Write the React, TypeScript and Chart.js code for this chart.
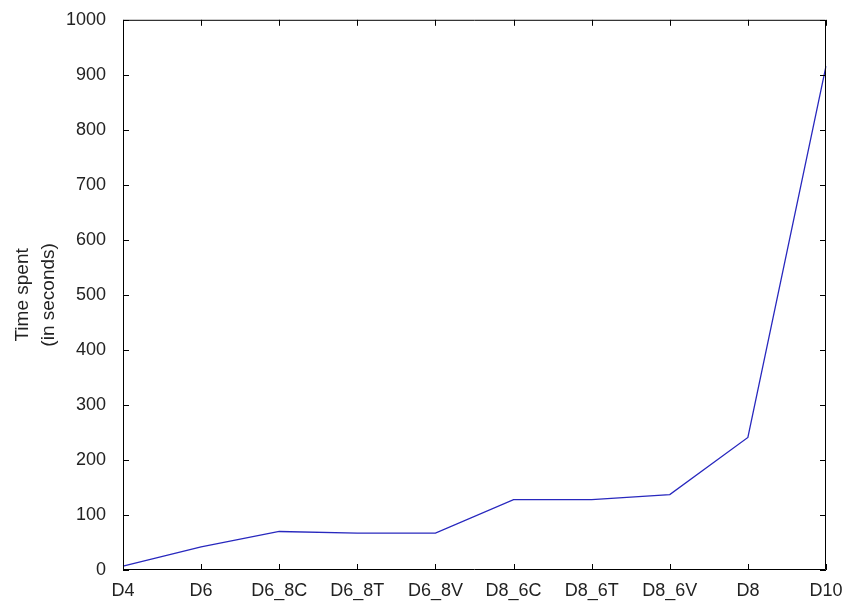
import React, { useEffect, useRef } from "react";
import { Chart, registerables } from "chart.js";

Chart.register(...registerables);

// Run configurations along the x axis
const configs = ["D4", "D6", "D6_8C", "D6_8T", "D6_8V", "D8_6C", "D8_6T", "D8_6V", "D8", "D10"];
// Time spent per configuration, in seconds
const timeSpent = [7, 42, 70, 67, 67, 128, 128, 137, 241, 916];
// Y axis range and step
const yMin = 0;
const yMax = 1000;
const yStep = 100;
// Y axis title lines
const yTitle = ["Time spent", "(in seconds)"];

const tickFont = { family: "'Liberation Sans', Arial, sans-serif", size: 18 };
const titleFont = "19px 'Liberation Sans', Arial, sans-serif";

// Boxed axes with short inward ticks on all four sides, plus the rotated y title
const boxPlugin = {
  id: "boxAxes",
  afterDraw(chart: any) {
    const { ctx, chartArea } = chart;
    const { left, right, top, bottom } = chartArea;
    const xs = chart.scales.x;
    const ys = chart.scales.y;
    const tl = 6;
    ctx.save();
    ctx.strokeStyle = "#000";
    ctx.lineWidth = 1;
    ctx.beginPath();
    ctx.rect(left + 0.5, top + 0.5, right - left - 1, bottom - top - 1);
    xs.ticks.forEach((_t: any, i: number) => {
      const x = Math.round(xs.getPixelForTick(i)) + 0.5;
      ctx.moveTo(x, bottom);
      ctx.lineTo(x, bottom - tl);
      ctx.moveTo(x, top);
      ctx.lineTo(x, top + tl);
    });
    ys.ticks.forEach((_t: any, i: number) => {
      const y = Math.round(ys.getPixelForTick(i)) + 0.5;
      ctx.moveTo(left, y);
      ctx.lineTo(left + tl, y);
      ctx.moveTo(right, y);
      ctx.lineTo(right - tl, y);
    });
    ctx.stroke();

    const cy = (top + bottom) / 2;
    ctx.fillStyle = "#222";
    ctx.font = titleFont;
    ctx.textAlign = "center";
    ctx.textBaseline = "alphabetic";
    const baselines = [28, 54];
    yTitle.forEach((line, i) => {
      ctx.save();
      ctx.translate(baselines[i], cy);
      ctx.rotate(-Math.PI / 2);
      ctx.fillText(line, 0, 0);
      ctx.restore();
    });
    ctx.restore();
  },
};

export default function App() {
  const ref = useRef<HTMLCanvasElement | null>(null);

  useEffect(() => {
    if (!ref.current) return;
    const chart = new Chart(ref.current, {
      type: "line",
      data: {
        labels: configs,
        datasets: [
          {
            data: timeSpent,
            borderColor: "rgb(40,40,190)",
            borderWidth: 1.3,
            pointRadius: 0,
            tension: 0,
            fill: false,
          },
        ],
      },
      options: {
        responsive: false,
        animation: false,
        events: [],
        layout: { padding: { left: 0, right: 22, top: 16, bottom: 0 } },
        plugins: {
          legend: { display: false },
          tooltip: { enabled: false },
          title: { display: false },
        },
        scales: {
          x: {
            type: "category",
            offset: false,
            grid: { display: false },
            border: { display: false },
            ticks: {
              color: "#222",
              font: tickFont,
              padding: 2,
              maxRotation: 0,
              autoSkip: false,
            },
            afterFit(scale: any) {
              scale.height = 34;
            },
          },
          y: {
            min: yMin,
            max: yMax,
            grid: { display: false },
            border: { display: false },
            ticks: {
              stepSize: yStep,
              color: "#222",
              font: tickFont,
              padding: 9,
              callback: (v: any) => String(v),
            },
            afterFit(scale: any) {
              scale.width = 123;
            },
          },
        },
      },
      plugins: [boxPlugin],
    });
    return () => chart.destroy();
  }, []);

  return (
    <div style={{ position: "absolute", left: 0, top: 0, width: 848, height: 604, background: "#fff" }}>
      <canvas ref={ref} width={848} height={604} style={{ display: "block" }} />
    </div>
  );
}
